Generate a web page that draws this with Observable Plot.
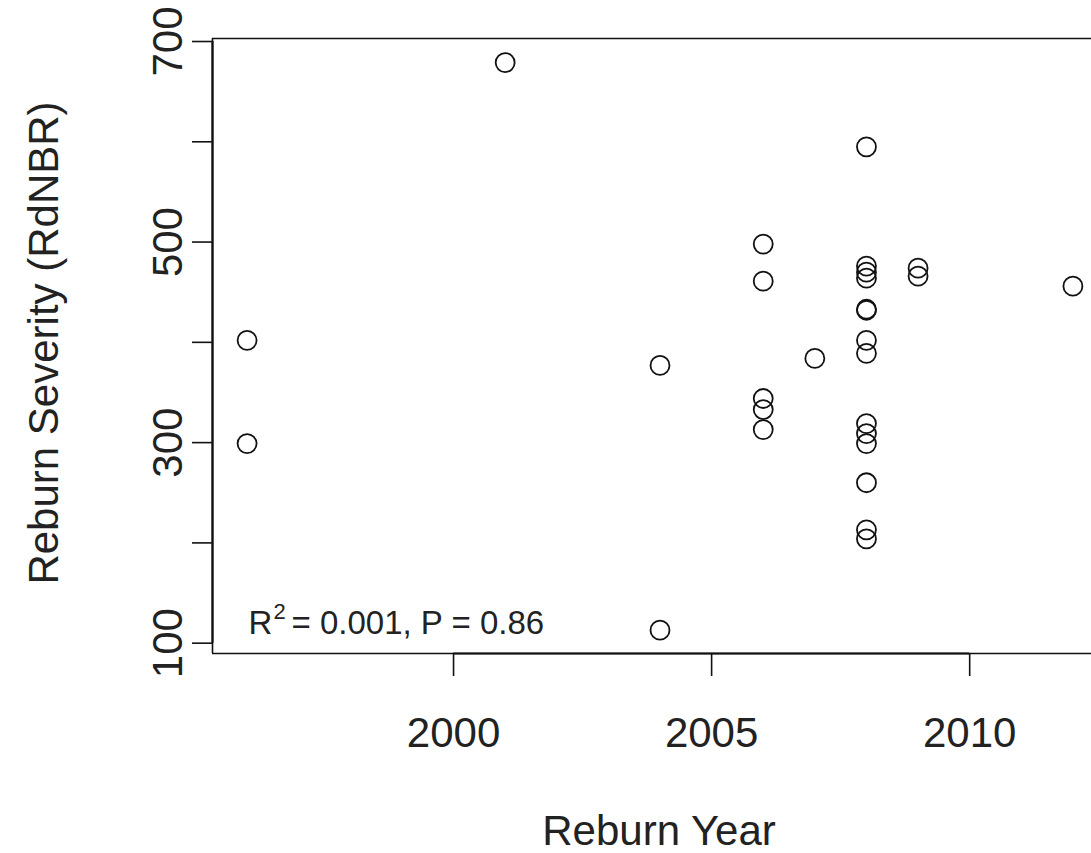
<!DOCTYPE html>
<html>
<head>
<meta charset="utf-8">
<script src="https://cdn.jsdelivr.net/npm/d3@7"></script>
<script src="https://cdn.jsdelivr.net/npm/@observablehq/plot@0.6"></script>
<style>
  html, body { margin: 0; padding: 0; background: #fff; overflow: hidden; }
</style>
</head>
<body>
<div id="chart"></div>
<script>
// Reburn year (x) and reburn severity RdNBR (y)
const reburnYear = [
  1996, 1996,
  2001,
  2004, 2004,
  2006, 2006, 2006, 2006, 2006,
  2007,
  2008, 2008, 2008, 2008, 2008, 2008, 2008, 2008, 2008, 2008, 2008, 2008, 2008, 2008,
  2009, 2009,
  2012
];
const reburnSeverity = [
  402, 299,
  679,
  377, 113,
  498, 461, 344, 333, 313,
  384,
  595, 476, 470, 464, 433, 432, 402, 389, 319, 309, 299, 260, 213, 204,
  474, 466,
  456
];
const xTicks = [2000, 2005, 2010];
const yTicks = [100, 200, 300, 400, 500, 600, 700];
const yTickLabels = [100, 300, 500, 700];
const xDomain = [1995.33, 2012.36];
const yDomain = [89.7, 703];
const xTitle = "Reburn Year";
const yTitle = "Reburn Severity (RdNBR)";
const statBase = "R";
const statSup = "2";
const statRest = "= 0.001, P = 0.86";

const data = reburnYear.map((x, i) => ({year: x, severity: reburnSeverity[i]}));

const font = "'Liberation Sans', Arial, Helvetica, sans-serif";
const ink = "#111";
const textInk = "#222";

const chart = Plot.plot({
  width: 1091,
  height: 853,
  marginLeft: 212,
  marginRight: 0,
  marginTop: 38,
  marginBottom: 200,
  x: {domain: xDomain},
  y: {domain: yDomain},
  style: {fontFamily: font, background: "#fff", color: ink, overflow: "hidden"},
  marks: [
    // box (right side lies outside the picture)
    Plot.ruleY([yDomain[1]], {stroke: ink, strokeWidth: 1.6}),
    Plot.ruleY([yDomain[0]], {stroke: ink, strokeWidth: 1.6}),
    Plot.ruleX([xDomain[0]], {stroke: ink, strokeWidth: 1.6}),
    // axis lines overlapping the box between first and last ticks
    Plot.ruleY([yDomain[0]], {x1: xTicks[0], x2: xTicks[xTicks.length - 1], stroke: ink, strokeWidth: 2.2}),
    Plot.ruleX([xDomain[0]], {y1: yTicks[0], y2: yTicks[yTicks.length - 1], stroke: ink, strokeWidth: 2.2}),
    Plot.axisX(xTicks, {
      anchor: "bottom",
      tickSize: 23,
      tickPadding: 41,
      fontSize: 42,
      stroke: ink,
      strokeWidth: 1.6,
      fill: textInk,
      tickFormat: d => String(d),
      label: null
    }),
    Plot.axisY(yTicks, {
      anchor: "left",
      tickSize: 20,
      stroke: ink,
      strokeWidth: 1.6,
      tickFormat: () => "",
      label: null
    }),
    Plot.text(yTickLabels, {
      y: d => d,
      text: d => String(d),
      frameAnchor: "left",
      dx: -44,
      rotate: -90,
      textAnchor: "middle",
      lineAnchor: "middle",
      fontSize: 42,
      fill: textInk
    }),
    Plot.text([xTitle], {
      text: d => d,
      frameAnchor: "bottom",
      dx: 7,
      dy: 178,
      lineAnchor: "middle",
      fontSize: 42,
      fill: textInk
    }),
    Plot.text([yTitle], {
      text: d => d,
      frameAnchor: "left",
      dx: -168,
      dy: -3,
      rotate: -90,
      textAnchor: "middle",
      lineAnchor: "middle",
      fontSize: 42,
      fill: textInk
    }),
    // R^2 annotation (plotmath-like superscript)
    Plot.text([statBase], {
      text: d => d,
      frameAnchor: "bottom-left",
      dx: 36,
      dy: -20,
      textAnchor: "start",
      lineAnchor: "bottom",
      fontSize: 33,
      fill: textInk
    }),
    Plot.text([statSup], {
      text: d => d,
      frameAnchor: "bottom-left",
      dx: 61,
      dy: -35,
      textAnchor: "start",
      lineAnchor: "bottom",
      fontSize: 22,
      fill: textInk
    }),
    Plot.text([statRest], {
      text: d => d,
      frameAnchor: "bottom-left",
      dx: 79,
      dy: -20,
      textAnchor: "start",
      lineAnchor: "bottom",
      fontSize: 33,
      fill: textInk
    }),
    Plot.dot(data, {
      x: "year",
      y: "severity",
      r: 9.5,
      stroke: ink,
      strokeWidth: 1.8,
      fill: "none"
    })
  ]
});

document.getElementById("chart").appendChild(chart);
</script>
</body>
</html>
